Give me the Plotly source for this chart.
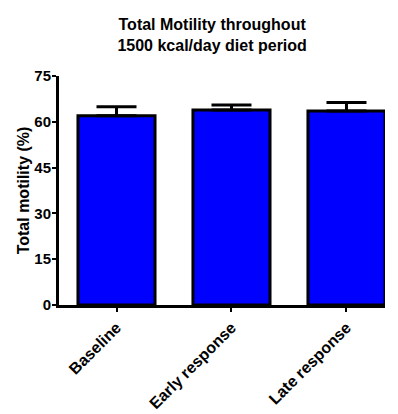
import plotly.graph_objects as go

# Group labels, mean total motility (%) and SEM for each period
periods = ["Baseline", "Early response", "Late response"]
motility_mean = [62.0, 63.9, 63.5]
motility_sem = [2.9, 1.6, 2.8]
y_ticks = [0, 15, 30, 45, 60, 75]

FONT = "Liberation Sans, Arial, sans-serif"

fig = go.Figure()
fig.add_trace(go.Bar(
    x=periods,
    y=motility_mean,
    width=0.67,
    marker=dict(color="#0000ff", line=dict(color="black", width=3)),
    error_y=dict(
        type="data",
        array=motility_sem,
        arrayminus=[0] * len(motility_sem),
        symmetric=False,
        color="black",
        thickness=3,
        width=20,
    ),
))

fig.update_layout(
    width=398,
    height=414,
    margin=dict(l=59, r=13, t=76, b=109),
    plot_bgcolor="white",
    paper_bgcolor="white",
    showlegend=False,
    title=dict(
        text="<b>Total Motility throughout<br>1500 kcal/day diet period</b>",
        x=0.533,
        xanchor="center",
        y=1 - 30 / 414,
        yanchor="middle",
        font=dict(family=FONT, size=16, color="black"),
    ),
    font=dict(family=FONT, color="black"),
)

fig.update_xaxes(
    range=[-0.5, 2.335],
    automargin=False,
    showline=True,
    linecolor="black",
    linewidth=3,
    ticks="outside",
    ticklen=4,
    tickwidth=2,
    tickcolor="black",
    tickangle=-45,
    tickfont=dict(family=FONT, size=16, color="black", weight="bold"),
    showgrid=False,
    zeroline=False,
)

fig.update_yaxes(
    range=[0, 75],
    automargin=False,
    tickvals=y_ticks,
    showline=True,
    linecolor="black",
    linewidth=3,
    ticks="outside",
    ticklen=4,
    tickwidth=2,
    tickcolor="black",
    ticklabelstandoff=-2,
    tickfont=dict(family=FONT, size=15, color="black", weight="bold"),
    title=dict(text="<b>Total motility (%)</b>", font=dict(family=FONT, size=16, color="black"), standoff=1),
    showgrid=False,
    zeroline=False,
)

fig.write_html("out.html")
